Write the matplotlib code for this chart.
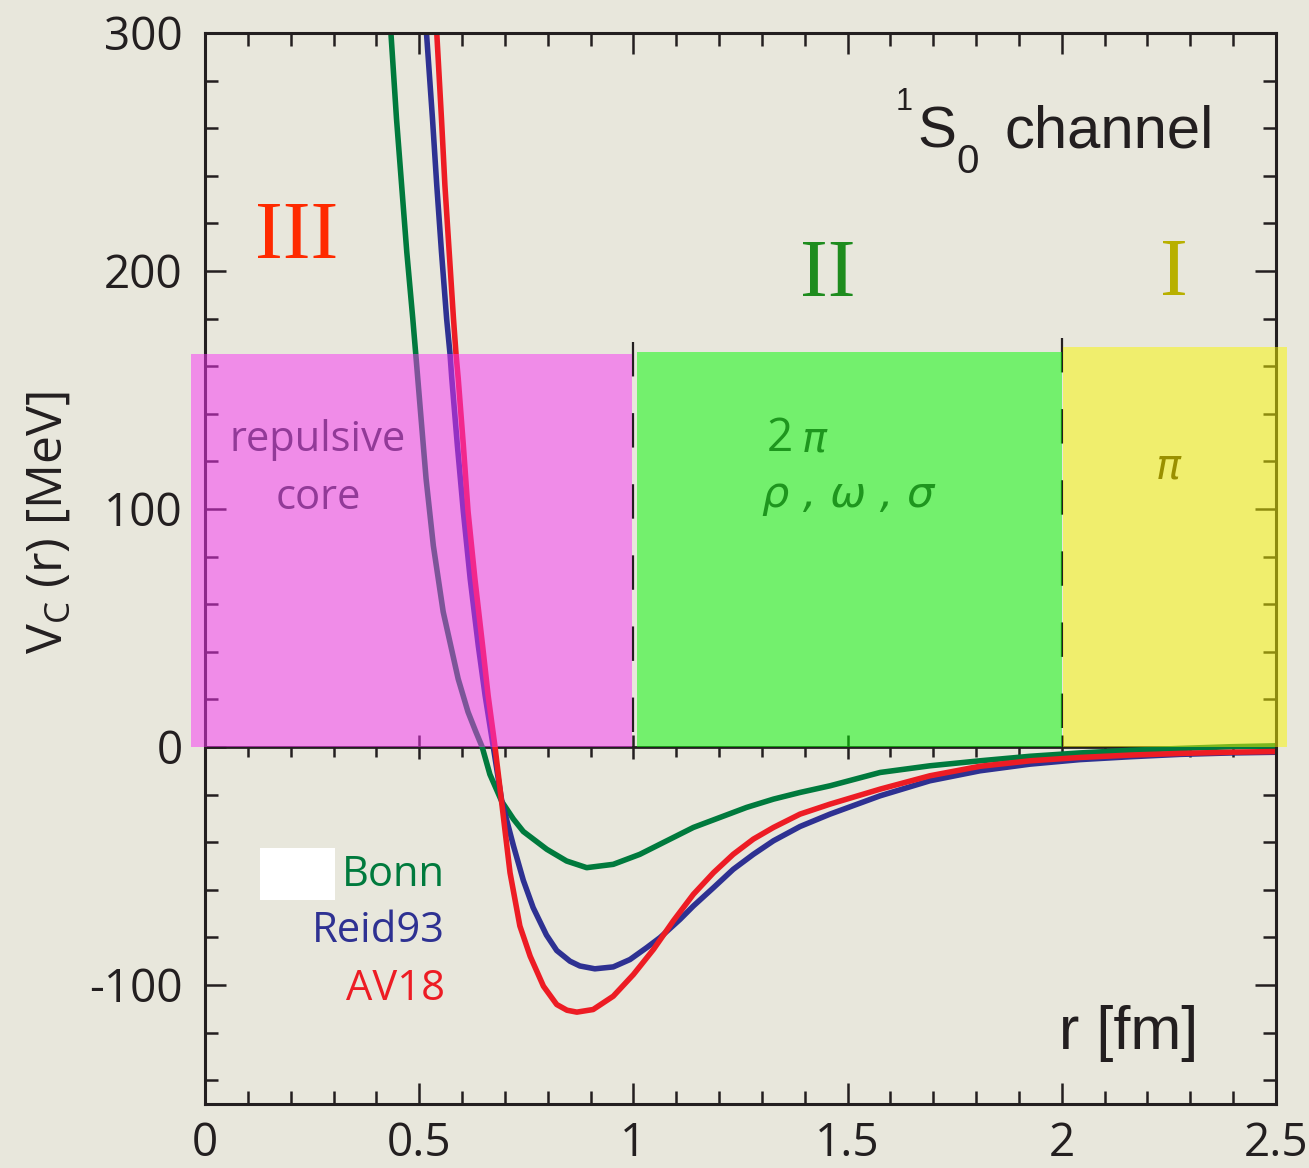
import numpy as np
import matplotlib.pyplot as plt
from matplotlib.patches import Rectangle
from matplotlib.ticker import MultipleLocator, FixedLocator

plt.rcParams['font.family'] = ['Open Sans', 'DejaVu Sans']
plt.rcParams['mathtext.fontset'] = 'custom'
plt.rcParams['mathtext.rm'] = 'Open Sans'

# данные: r [fm], V_C [MeV]
r_bonn = [0.434, 0.447, 0.459, 0.471, 0.485, 0.492, 0.503, 0.516, 0.533, 0.556, 0.591,
          0.614, 0.632, 0.647, 0.665, 0.693, 0.720, 0.743, 0.798, 0.844, 0.891, 0.953,
          1.015, 1.078, 1.140, 1.202, 1.264, 1.327, 1.389, 1.459, 1.576, 1.692, 1.809,
          1.926, 2.042, 2.159, 2.276, 2.393, 2.500]
v_bonn = [300, 264, 236, 208, 180, 165, 141, 112.8, 84.6, 56.8, 28.6,
          14.7, 6.5, 0, -11.5, -23, -30.3, -35.5, -43, -47.9, -50.7, -49.3,
          -45.1, -39.4, -33.8, -29.6, -25.4, -21.9, -19.1, -16.3, -10.7, -7.9, -5.8,
          -3.9, -2.5, -1.4, -0.6, 0.1, 0.5]

r_reid = [0.517, 0.531, 0.541, 0.552, 0.564, 0.572, 0.576, 0.589, 0.603, 0.619, 0.638,
          0.654, 0.673, 0.693, 0.720, 0.743, 0.766, 0.797, 0.821, 0.852, 0.875, 0.910,
          0.953, 0.992, 1.031, 1.062, 1.109, 1.140, 1.187, 1.233, 1.280, 1.327, 1.389,
          1.459, 1.576, 1.692, 1.809, 1.926, 2.042, 2.159, 2.276, 2.393, 2.500]
v_reid = [300, 264, 236, 208, 180, 165, 155, 126.9, 99, 70.7, 42.5,
          21.5, 0, -23, -41.5, -56, -67.5, -79, -85.5, -90, -92, -93.2,
          -92.4, -89.3, -84.3, -80.1, -72.4, -66.8, -59.1, -51.4, -45.1, -39.4, -33.4,
          -28.2, -20.5, -14.2, -10, -7.2, -5.3, -4.1, -3.1, -2.5, -2.2]

r_av18 = [0.541, 0.552, 0.560, 0.570, 0.580, 0.586, 0.591, 0.603, 0.614, 0.630, 0.648,
          0.661, 0.677, 0.693, 0.712, 0.735, 0.759, 0.790, 0.821, 0.845, 0.868, 0.906,
          0.953, 1.000, 1.047, 1.093, 1.140, 1.187, 1.233, 1.280, 1.327, 1.389, 1.459,
          1.576, 1.692, 1.809, 1.926, 2.042, 2.159, 2.276, 2.393, 2.500]
v_av18 = [300, 264, 236, 208, 180, 165, 155, 126.9, 99, 70.7, 42.5,
          21.5, 0, -24, -52.8, -75.2, -87.9, -100.5, -108.2, -110.6, -111.4, -110.3,
          -104.7, -95.6, -85, -73.1, -61.9, -52.8, -45.1, -38.7, -33.8, -28.2, -24,
          -17.7, -12.1, -8.1, -5.8, -4.4, -3.4, -2.7, -2.2, -1.9]

# области III, II, I
reg_left = [-0.033, 1.008, 2.002]
reg_right = [0.997, 2.000, 2.525]
reg_top = [165, 166, 168]
reg_colors = ['#f832f4', '#00fa00', '#f8f600']
bounds = [1.0, 2.0]
bound_top = [170, 172]

x_ticks = [0, 0.5, 1, 1.5, 2, 2.5]
x_labels = ['0', '0.5', '1', '1.5', '2', '2.5']
y_ticks = [-100, 0, 100, 200, 300]
y_labels = ['-100', '0', '100', '200', '300']

bg = '#e8e7dc'
ink = '#231f20'

fig = plt.figure(figsize=(13.09, 11.68), dpi=100, facecolor=bg)
ax = fig.add_axes([205/1309, 1-1104/1168, (1276-205)/1309, (1104-33)/1168])
ax.set_facecolor(bg)

ax.plot(r_bonn, v_bonn, color='#007a3d', lw=4.0, zorder=2, solid_joinstyle='round')
ax.plot(r_reid, v_reid, color='#2e3192', lw=4.0, zorder=2, solid_joinstyle='round')
ax.plot(r_av18, v_av18, color='#ed1c24', lw=4.0, zorder=2, solid_joinstyle='round')

for b, t in zip(bounds, bound_top):
    ax.plot([b, b], [t, 0], color=ink, lw=1.6, linestyle=(0, (15.5, 16.5)), zorder=2)

for l, rr, t, c in zip(reg_left, reg_right, reg_top, reg_colors):
    ax.add_patch(Rectangle((l, 0), rr - l, t, facecolor=c, edgecolor='none',
                           alpha=0.5, zorder=3, clip_on=False))

ax.set_xlim(0, 2.5)
ax.set_ylim(-150, 300)
ax.xaxis.set_major_locator(FixedLocator(x_ticks))
ax.set_xticklabels(x_labels, fontsize=33, color=ink)
ax.yaxis.set_major_locator(FixedLocator(y_ticks))
ax.set_yticklabels(y_labels, fontsize=33, color=ink)
ax.xaxis.set_minor_locator(MultipleLocator(0.1))
ax.yaxis.set_minor_locator(MultipleLocator(20))
ax.tick_params(which='both', direction='in', top=True, right=True, width=1.8, color=ink)
ax.tick_params(which='major', length=15)
ax.tick_params(which='minor', length=9.5)
ax.tick_params(axis='x', pad=12)
ax.tick_params(axis='y', pad=16)
for s in ax.spines.values():
    s.set_linewidth(2.2)
    s.set_color(ink)

# ось на уровне V=0
sec = ax.secondary_xaxis(150/450)
sec.xaxis.set_major_locator(FixedLocator(x_ticks))
sec.xaxis.set_minor_locator(MultipleLocator(0.1))
sec.spines['bottom'].set_linewidth(2.0)
sec.spines['bottom'].set_color(ink)
sec.tick_params(which='major', direction='inout', length=17, width=1.8, color=ink, labelbottom=False)
sec.tick_params(which='minor', direction='out', length=7, width=1.8, color=ink)

# подписи
ax.text(0.2148, 205.5, 'III', family='Liberation Serif', fontsize=60, color='#ff2a00',
        ha='center', va='baseline', zorder=5)
ax.text(1.454, 189.5, 'II', family='Liberation Serif', fontsize=60, color='#1e8c1e',
        ha='center', va='baseline', zorder=5)
ax.text(2.262, 189.9, 'I', family='Liberation Serif', fontsize=60, color='#b8b000',
        ha='center', va='baseline', zorder=5)

ax.text(0.264, 124.2, 'repulsive', fontsize=30, color='#923a98', ha='center', va='baseline', zorder=5)
ax.text(0.264, 100.2, 'core', fontsize=30, color='#923a98', ha='center', va='baseline', zorder=5)
ax.text(1.312, 124.2, '2', fontsize=33, color='#1e961e', ha='left', va='baseline', zorder=5)
ax.text(1.394, 124.2, 'π', family='DejaVu Sans', style='italic', fontsize=30,
        color='#1e961e', ha='left', va='baseline', zorder=5)
ax.text(1.300, 101, 'ρ , ω , σ', family='DejaVu Sans', style='italic', fontsize=31,
        color='#1e961e', ha='left', va='baseline', zorder=5)
ax.text(2.248, 112.8, 'π', family='DejaVu Sans', style='italic', fontsize=30,
        color='#9a9000', ha='center', va='baseline', zorder=5)

ax.text(1.611, 267.8, '1', family='Liberation Sans', fontsize=22, color=ink, ha='left', va='baseline')
ax.text(1.664, 251.8, 'S', family='Liberation Sans', fontsize=42, color=ink, ha='left', va='baseline')
ax.text(1.755, 241, '0', family='Liberation Sans', fontsize=29, color=ink, ha='left', va='baseline')
ax.text(1.867, 251.8, 'channel', family='Liberation Sans', fontsize=43, color=ink, ha='left', va='baseline')
ax.text(2.318, -126.7, 'r [fm]', family='Liberation Sans', fontsize=44, color=ink, ha='right', va='baseline')

# легенда
ax.add_patch(Rectangle((0.128, -64.4), 0.175, 21.9, facecolor='white', edgecolor='none', zorder=4))
ax.text(0.560, -53.9, 'Bonn', fontsize=30, color='#007a3d', ha='right', va='center')
ax.text(0.560, -77.5, 'Reid93', fontsize=30, color='#2e3192', ha='right', va='center')
ax.text(0.560, -101.5, 'AV18', fontsize=30, color='#ed1c24', ha='right', va='center')

fig.text(49/1309, 1-522/1168, r'V$_\mathrm{C}$ (r) [MeV]', fontsize=36, color=ink,
         rotation=90, ha='center', va='center')

fig.savefig('out.png', dpi=100, facecolor=bg)
